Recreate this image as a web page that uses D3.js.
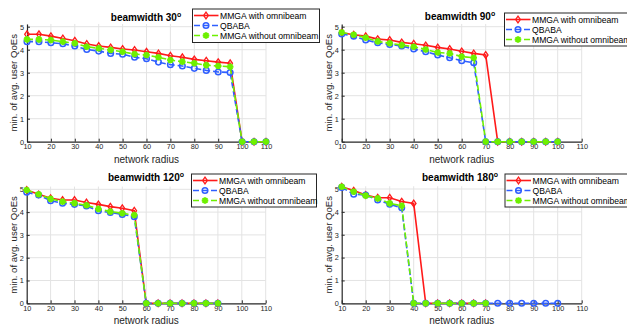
<!DOCTYPE html>
<html><head><meta charset="utf-8">
<script src="https://cdnjs.cloudflare.com/ajax/libs/d3/7.8.5/d3.min.js"></script>
<style>body{margin:0;background:#fff}svg{display:block;font-family:"Liberation Sans",Arial,sans-serif}</style>
</head><body><svg id="c" width="627" height="327"></svg>
<script>
// ---- data ----
const seriesNames = ["MMGA with omnibeam", "QBABA", "MMGA without omnibeam"];
const xTicks = [10,20,30,40,50,60,70,80,90,100,110];
const yTicks = [0,1,2,3,4,5];
const titles = ["30", "90", "120", "180"];

// beamwidth 30
const bw30_x = [10,15,20,25,30,35,40,45,50,55,60,65,70,75,80,85,90,95,100,105,110];
const bw30_mmga = [4.67,4.67,4.59,4.49,4.39,4.25,4.16,4.10,4.03,3.99,3.91,3.84,3.74,3.67,3.58,3.52,3.46,3.41,0,0,0];
const bw30_qbaba = [4.35,4.35,4.30,4.26,4.16,4.01,3.94,3.84,3.80,3.67,3.61,3.46,3.35,3.29,3.19,3.10,3.03,3.01,0,0,0];
const bw30_noomni = [4.45,4.45,4.42,4.35,4.28,4.13,4.06,3.99,3.91,3.81,3.77,3.67,3.55,3.48,3.41,3.33,3.29,3.26,0,0,0];

// beamwidth 90
const bw90_x = [10,15,20,25,30,35,40,45,50,55,60,65,70,75,80,85,90,95,100];
const bw90_mmga = [4.74,4.65,4.59,4.46,4.42,4.32,4.26,4.19,4.10,4.03,3.93,3.84,3.77,0,0,0,0,0,0];
const bw90_qbaba = [4.68,4.59,4.42,4.30,4.23,4.16,4.03,3.91,3.77,3.65,3.52,3.43,0,0,0,0,0,0,0];
const bw90_noomni = [4.75,4.65,4.52,4.36,4.28,4.20,4.13,4.01,3.88,3.84,3.70,3.65,0,0,0,0,0,0,0];

// beamwidth 120
const bw120_x = [10,15,20,25,30,35,40,45,50,55,60,65,70,75,80,85,90];
const bw120_mmga = [4.97,4.78,4.61,4.53,4.53,4.42,4.34,4.24,4.17,4.06,0,0,0,0,0,0,0];
const bw120_qbaba = [4.87,4.75,4.50,4.39,4.34,4.27,4.06,3.98,3.90,3.80,0,0,0,0,0,0,0];
const bw120_noomni = [4.97,4.78,4.58,4.46,4.39,4.30,4.14,4.02,3.95,3.87,0,0,0,0,0,0,0];

// beamwidth 180
const bw180_x_short = [10,15,20,25,30,35,40,45,50,55,60,65,70];
const bw180_x_long = [10,15,20,25,30,35,40,45,50,55,60,65,70,75,80,85,90,95,100];
const bw180_mmga = [5.10,4.93,4.74,4.62,4.62,4.45,4.37,0,0,0,0,0,0];
const bw180_qbaba = [5.07,4.77,4.74,4.52,4.33,4.18,0,0,0,0,0,0,0,0,0,0,0,0,0];
const bw180_noomni = [5.10,4.88,4.71,4.59,4.37,4.27,0,0,0,0,0,0,0];

const colors = ["#ff1a1a", "#2f5fff", "#6ef000"];

const panels = [
  {title: titles[0], x0: 27, x1: 266, y0: 141.7, y5: 26.7, tb: 21, tx: 146,
   leg: [192.5, 9, 127, 33.5],
   series: [[bw30_x, bw30_mmga],[bw30_x, bw30_qbaba],[bw30_x, bw30_noomni]]},
  {title: titles[1], x0: 341.7, x1: 581.7, y0: 141.7, y5: 26.7, tb: 20, tx: 460,
   leg: [504.5, 13, 127, 33],
   series: [[bw90_x, bw90_mmga],[bw90_x, bw90_qbaba],[bw90_x, bw90_noomni]]},
  {title: titles[2], x0: 26.7, x1: 265.7, y0: 303.3, y5: 189.3, tb: 181, tx: 146,
   leg: [191.5, 174, 125, 33],
   series: [[bw120_x, bw120_mmga],[bw120_x, bw120_qbaba],[bw120_x, bw120_noomni]]},
  {title: titles[3], x0: 341.7, x1: 581.7, y0: 303.3, y5: 189, tb: 181, tx: 460,
   leg: [505, 174, 127, 33],
   series: [[bw180_x_short, bw180_mmga],[bw180_x_long, bw180_qbaba],[bw180_x_short, bw180_noomni]]}
];

const svg = d3.select("#c");

function marker(g, k, cx, cy) {
  const c = colors[k];
  if (k === 0) {
    const s = 3.3;
    g.append("path").attr("d", `M${cx},${cy-s}L${cx+s*0.7},${cy}L${cx},${cy+s}L${cx-s*0.7},${cy}Z`)
      .attr("fill", "none").attr("stroke", c).attr("stroke-width", 1.3);
  } else if (k === 1) {
    g.append("circle").attr("cx", cx).attr("cy", cy).attr("r", 2.8)
      .attr("fill", "none").attr("stroke", c).attr("stroke-width", 1.5);
  } else {
    const s = 3.3, d = s*0.72;
    g.append("path").attr("d",
      `M${cx-s},${cy}L${cx+s},${cy}M${cx},${cy-s}L${cx},${cy+s}M${cx-d},${cy-d}L${cx+d},${cy+d}M${cx-d},${cy+d}L${cx+d},${cy-d}`)
      .attr("stroke", c).attr("stroke-width", 2).attr("fill", "none");
    g.append("circle").attr("cx", cx).attr("cy", cy).attr("r", 2).attr("fill", c);
  }
}

panels.forEach(p => {
  const g = svg.append("g");
  const x = d3.scaleLinear().domain([10, 110]).range([p.x0, p.x1]);
  const ppu = (p.y0 - p.y5) / 5;
  const y = d3.scaleLinear().domain([0, 5.12]).range([p.y0, p.y0 - 5.12 * ppu]);

  // grid
  g.append("g").selectAll("line").data(xTicks.slice(1)).join("line")
    .attr("x1", d => x(d)).attr("x2", d => x(d)).attr("y1", y(0)).attr("y2", y(5.12))
    .attr("stroke", "#e3e3e3").attr("stroke-width", 1);
  g.append("g").selectAll("line").data(yTicks.slice(1)).join("line")
    .attr("x1", x(10)).attr("x2", x(110)).attr("y1", d => y(d)).attr("y2", d => y(d))
    .attr("stroke", "#e3e3e3").attr("stroke-width", 1);

  // axes
  const xAx = d3.axisBottom(x).tickValues(xTicks).tickFormat(d3.format("d"))
    .tickSizeInner(-3).tickSizeOuter(0).tickPadding(2.5);
  const gx = g.append("g").attr("transform", `translate(0,${p.y0})`).call(xAx);
  const yAx = d3.axisLeft(y).tickValues(yTicks).tickFormat(d3.format("d"))
    .tickSizeInner(-3).tickSizeOuter(0).tickPadding(3);
  const gy = g.append("g").attr("transform", `translate(${p.x0},0)`).call(yAx);
  [gx, gy].forEach(a => {
    a.select(".domain").attr("stroke", "#262626").attr("stroke-width", 1.2);
    a.selectAll(".tick line").attr("stroke", "#262626");
    a.selectAll(".tick text").attr("fill", "#262626").attr("font-size", 7.3)
      .attr("font-family", "Liberation Sans, Arial, sans-serif");
  });

  // series
  const dashes = [null, "6,3", "6,3"];
  p.series.forEach((s, k) => {
    const pts = s[0].map((xv, i) => [xv, s[1][i]]);
    const line = d3.line().x(d => x(d[0])).y(d => y(d[1]));
    g.append("path").datum(pts).attr("d", line).attr("fill", "none")
      .attr("stroke", colors[k]).attr("stroke-width", 1.6)
      .attr("stroke-dasharray", dashes[k]);
    const mg = g.append("g");
    pts.forEach(d => marker(mg, k, x(d[0]), y(d[1])));
  });

  // title
  const t = g.append("text").attr("x", p.tx).attr("y", p.tb).attr("text-anchor", "middle")
    .attr("font-weight", "bold").attr("font-size", 10).attr("fill", "#000");
  t.append("tspan").text("beamwidth " + p.title);
  t.append("tspan").attr("font-size", 7).attr("dy", -4).text("o");

  // labels
  g.append("text").attr("x", (p.x0 + p.x1) / 2).attr("y", p.y0 + 21).attr("text-anchor", "middle")
    .attr("font-size", 10).attr("fill", "#262626").text("network radius");
  g.append("text").attr("transform", `translate(${p.x0 - 10},${(p.y0 + y(5.12)) / 2}) rotate(-90)`)
    .attr("text-anchor", "middle").attr("font-size", 9.6).attr("fill", "#262626")
    .text("min. of avg. user QoEs");

  // legend
  const [lx, ly, lw, lh] = p.leg;
  const lg = g.append("g");
  lg.append("rect").attr("x", lx).attr("y", ly).attr("width", lw).attr("height", lh)
    .attr("fill", "#fff").attr("stroke", "#262626").attr("stroke-width", 1);
  seriesNames.forEach((nm, k) => {
    const cy = ly + 6.5 + k * 10;
    lg.append("line").attr("x1", lx + 1.5).attr("x2", lx + 26).attr("y1", cy).attr("y2", cy)
      .attr("stroke", colors[k]).attr("stroke-width", 1.6).attr("stroke-dasharray", dashes[k]);
    marker(lg, k, lx + 13.5, cy);
    lg.append("text").attr("x", lx + 27.5).attr("y", cy + 3).attr("font-size", 8.6)
      .attr("fill", "#000").text(nm);
  });
});
</script></body></html>
